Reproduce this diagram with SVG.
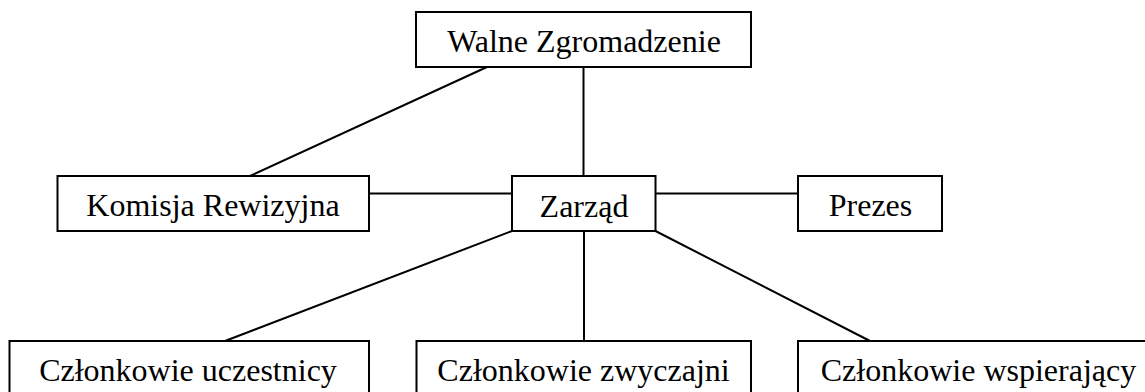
<svg xmlns="http://www.w3.org/2000/svg" width="1145" height="392" viewBox="0 0 1145 392">
<style>
.box{fill:#fff;stroke:#000;stroke-width:2}
.lbl{font-family:"Liberation Serif","Times New Roman",serif;font-size:32px;fill:#000;text-anchor:middle}
#connectors line{stroke:#000;stroke-width:2}
</style>
<rect width="1145" height="392" fill="#fff"/>
<g id="connectors">
<line x1="487" y1="67" x2="250" y2="176"/>
<line x1="583.5" y1="67" x2="583.5" y2="176"/>
<line x1="369" y1="193.5" x2="512" y2="193.5"/>
<line x1="655.5" y1="193.5" x2="798" y2="193.5"/>
<line x1="512" y1="231" x2="225" y2="341"/>
<line x1="584" y1="231" x2="584" y2="341"/>
<line x1="655.5" y1="231" x2="870" y2="341"/>
</g>
<g id="walne"><rect class="box" x="416" y="12" width="335" height="55"/><text class="lbl" x="584" y="52">Walne Zgromadzenie</text></g>
<g id="komisja"><rect class="box" x="57.5" y="176" width="311.5" height="55"/><text class="lbl" x="213" y="216">Komisja Rewizyjna</text></g>
<g id="zarzad"><rect class="box" x="512" y="176" width="143.5" height="55"/><text class="lbl" x="584" y="216.5">Zarząd</text></g>
<g id="prezes"><rect class="box" x="798" y="176" width="144" height="55"/><text class="lbl" x="870.5" y="216">Prezes</text></g>
<g id="uczestnicy"><rect class="box" x="9.5" y="341" width="359.5" height="60"/><text class="lbl" x="188" y="381">Członkowie uczestnicy</text></g>
<g id="zwyczajni"><rect class="box" x="416.5" y="341" width="334.5" height="60"/><text class="lbl" x="583.5" y="381">Członkowie zwyczajni</text></g>
<g id="wspierajacy"><rect class="box" x="798" y="341" width="362" height="60"/><text class="lbl" x="978.5" y="381">Członkowie wspierający</text></g>
</svg>
